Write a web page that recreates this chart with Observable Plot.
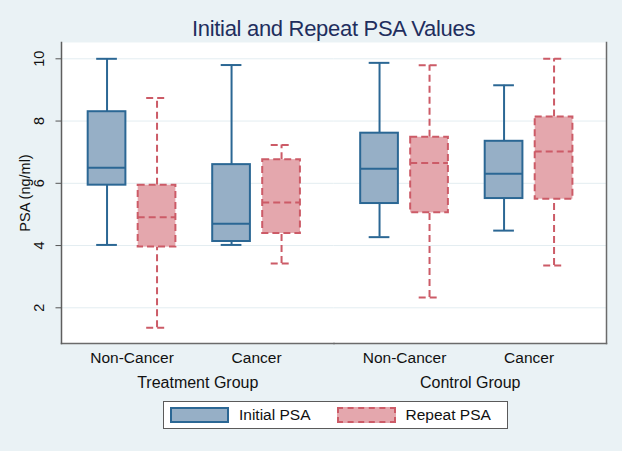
<!DOCTYPE html>
<html><head><meta charset="utf-8">
<script src="https://cdn.jsdelivr.net/npm/d3@7"></script>
<script src="https://cdn.jsdelivr.net/npm/@observablehq/plot@0.6"></script>
<style>
html,body{margin:0;padding:0;background:#eaf2f5;}
body{width:622px;height:451px;overflow:hidden;font-family:"Liberation Sans",Arial,sans-serif;}
#title{height:24px;padding:17px 16px 0 61px;line-height:24px;text-align:center;font-size:22px;letter-spacing:-0.3px;color:#1f2e5e;}
#chart svg{display:block;}
#legend{margin:5px 0 0 163px;width:337px;height:26px;border:1px solid #5a5a5a;background:#fff;display:flex;align-items:center;font-size:15.5px;color:#111;}
.sw{width:59px;height:16px;box-sizing:border-box;border-width:2px;margin-right:10px;}
</style>
</head><body>
<div id="title">Initial and Repeat PSA Values</div>
<div id="chart"></div>
<div id="legend"></div>
<script>
// ---- data ----
const groups = ["Treatment Group", "Control Group"];
const categories = ["Non-Cancer", "Cancer"];
const series = ["Initial PSA", "Repeat PSA"];
// order: group -> category -> series
const whiskerLow  = [4.02, 1.36, 4.02, 3.42, 4.27, 2.33, 4.48, 3.36];
const q1          = [5.94, 3.95, 4.13, 4.39, 5.35, 5.05, 5.51, 5.49];
const median      = [6.50, 4.91, 4.70, 5.38, 6.47, 6.65, 6.31, 7.02];
const q3          = [8.30, 5.94, 6.60, 6.76, 7.61, 7.48, 7.35, 8.13];
const whiskerHigh = [10.0, 8.74, 9.80, 7.23, 9.87, 9.79, 9.15, 10.0];
const yTicks = [2, 4, 6, 8, 10];
const yLabel = "PSA (ng/ml)";

const data = [];
let i = 0;
for (const g of groups) for (const c of categories) for (const s of series) {
  data.push({group: g, category: c, series: s, low: whiskerLow[i], q1: q1[i], median: median[i], q3: q3[i], high: whiskerHigh[i]});
  i++;
}

const styles = {
  "Initial PSA": {fill: "#96afc6", stroke: "#2b6794", dash: null, dx: -25},
  "Repeat PSA":  {fill: "#e4a7ad", stroke: "#cc5b67", dash: "7,4", dx: 25}
};

const boxMarks = series.flatMap(s => {
  const d = data.filter(r => r.series === s);
  const st = styles[s];
  const common = {fx: "group", x: "category", stroke: st.stroke, strokeWidth: 2, strokeDasharray: st.dash, dx: st.dx};
  return [
    Plot.ruleX(d, {...common, y1: "low", y2: "q1"}),
    Plot.ruleX(d, {...common, y1: "q3", y2: "high"}),
    Plot.tickY(d, {...common, y: "low", insetLeft: 8.5, insetRight: 8.5}),
    Plot.tickY(d, {...common, y: "high", insetLeft: 8.5, insetRight: 8.5}),
    Plot.barY(d, {...common, y1: "q1", y2: "q3", fill: st.fill}),
    Plot.tickY(d, {...common, y: "median"})
  ];
});

const chart = Plot.plot({
  width: 622, height: 355,
  marginTop: 1, marginLeft: 61, marginRight: 16, marginBottom: 53,
  style: {background: "transparent", fontFamily: "'Liberation Sans', Arial, sans-serif", color: "#111"},
  fx: {domain: groups, padding: 0, round: false, label: null},
  x: {type: "band", domain: categories, paddingInner: 0.6972, paddingOuter: 0.4428, align: 0.4687, round: false, label: null},
  y: {domain: [0.853, 10.524], label: null},
  marks: [
    Plot.frame({fill: "white", stroke: "none"}),
    Plot.gridY(yTicks, {stroke: "#e3edf1", strokeOpacity: 1, strokeWidth: 1}),
    Plot.frame({anchor: "bottom", stroke: "#6b6b6b", strokeWidth: 1.5}),
    Plot.frame({anchor: "left", facetAnchor: "left", stroke: "#5e5e5e", strokeWidth: 1.5}),
    Plot.frame({anchor: "right", facetAnchor: "right", stroke: "#6b6b6b", strokeWidth: 1.5}),
    Plot.axisY(yTicks, {label: yLabel, labelAnchor: "center", labelArrow: "none", labelOffset: 42, tickRotate: -90, tickSize: 5.5, tickPadding: 12, fontSize: 14.5, stroke: "#555"}),
    Plot.axisX({tickSize: 0, tickPadding: 8.7, fontSize: 15.5, label: null}),
    Plot.axisFx({anchor: "bottom", tickSize: 0, tickPadding: 32.7, fontSize: 16, label: null}),
    ...boxMarks
  ]
});
document.getElementById("chart").append(chart);

// legend
const legend = document.getElementById("legend");
legend.style.paddingLeft = "6px";
series.forEach((s, k) => {
  const st = styles[s];
  const item = document.createElement("div");
  item.style.display = "flex";
  item.style.alignItems = "center";
  if (k > 0) item.style.marginLeft = "26px";
  const sw = document.createElement("div");
  sw.className = "sw";
  sw.style.background = st.fill;
  sw.style.borderColor = st.stroke;
  sw.style.borderStyle = st.dash ? "dashed" : "solid";
  const t = document.createElement("span");
  t.textContent = s;
  item.append(sw, t);
  legend.append(item);
});
</script>
</body></html>
